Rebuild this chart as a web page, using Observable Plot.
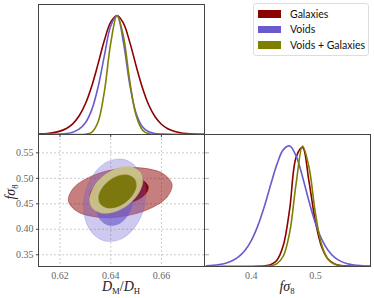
<!DOCTYPE html>
<html><head><meta charset="utf-8">
<script src="https://cdn.jsdelivr.net/npm/d3@7"></script>
<script src="https://cdn.jsdelivr.net/npm/@observablehq/plot@0.6"></script>
<style>
body{margin:0;background:#fff;}
#wrap{position:relative;width:374px;height:298px;overflow:hidden;font-family:"Liberation Serif",serif;}
.panel{position:absolute;}
.panel svg{overflow:visible;background:transparent;}
.lab{position:absolute;font-family:"Liberation Serif",serif;font-size:14px;line-height:1;color:#222;white-space:nowrap;transform:translate(-50%,-50%);}
.lab sub{font-size:0.62em;vertical-align:-0.35em;font-style:normal;}
#ylab{transform:translate(-50%,-50%) rotate(-90deg);}
#legend{position:absolute;left:253px;top:3px;width:114px;height:49px;border:1px solid #ddd;border-radius:3px;background:#fff;padding-top:2px;box-sizing:content-box;font-family:Lato,"DejaVu Sans",sans-serif;font-size:10.5px;color:#111;}
#legend .row{height:15.5px;display:flex;align-items:center;}
#legend .sw{display:inline-block;width:23px;height:7.5px;margin-left:4px;margin-right:9px;}
</style></head><body>
<div id="wrap">
  <div id="br" class="panel" style="left:200px;top:130px"></div>
  <div id="bl" class="panel" style="left:0;top:130px"></div>
  <div id="tl" class="panel" style="left:0;top:0"></div>
  <div id="legend"></div>
  <div class="lab" style="left:121px;top:288px"><i>D</i><sub>M</sub>/<i>D</i><sub>H</sub></div>
  <div class="lab" style="left:287px;top:288px"><i>f</i><i>σ</i><sub>8</sub></div>
  <div class="lab" id="ylab" style="left:12px;top:192px"><i>f</i><i>σ</i><sub>8</sub></div>
</div>
<script>
// ---------- data ----------
const seriesNames = ["Galaxies", "Voids", "Voids + Galaxies"];
const lineColors = ["#8b0000", "#6a5acd", "#808000"];

const dmdhDomain = [0.6115, 0.677];
const fs8Domain = [0.327, 0.586];
const densityDomain = [0, 1.092];

const dmdhTicks = [0.62, 0.64, 0.66];
const fs8TicksY = [0.35, 0.40, 0.45, 0.50, 0.55];
const fs8TicksX = [0.4, 0.5];

const dmdhGrid = [0.6100,0.6125,0.6150,0.6175,0.6200,0.6225,0.6250,0.6275,0.6300,0.6325,0.6350,0.6375,0.6400,0.6425,0.6450,0.6475,0.6500,0.6525,0.6550,0.6575,0.6600,0.6625,0.6650,0.6675,0.6700,0.6725,0.6750,0.6775];
const dmdhGalaxies = [0.0028,0.0050,0.0088,0.0158,0.0284,0.0508,0.0898,0.155,0.258,0.406,0.593,0.791,0.944,1.000,0.935,0.776,0.578,0.393,0.248,0.149,0.0859,0.0485,0.0270,0.0151,0.0084,0.0047,0.0027,0.0016];
const dmdhVoids = [0.0002,0.0004,0.0009,0.0018,0.0040,0.0088,0.0197,0.0446,0.0986,0.207,0.398,0.662,0.911,0.997,0.775,0.422,0.179,0.0657,0.0228,0.0079,0.0028,0.0010,0.0004,0.0002,0,0,0,0];
const dmdhCombined = [0,0,0,0,0,0,0,0.0001,0.0020,0.0187,0.105,0.362,0.768,1.000,0.826,0.450,0.162,0.0386,0.0061,0.0006,0,0,0,0,0,0,0,0];

const fs8Grid = [0.33,0.34,0.35,0.36,0.37,0.38,0.39,0.40,0.41,0.42,0.43,0.44,0.45,0.46,0.47,0.48,0.49,0.50,0.51,0.52,0.53,0.54,0.55,0.56,0.57,0.58,0.59];
const fs8Galaxies = [0,0,0,0,0,0.0001,0.0001,0.0004,0.0013,0.0042,0.0147,0.0524,0.175,0.479,0.905,0.985,0.705,0.373,0.159,0.060,0.0216,0.0078,0.0029,0.0011,0.0004,0.0001,0];
const fs8Voids = [0.0056,0.0094,0.0161,0.0276,0.0472,0.0799,0.133,0.215,0.334,0.490,0.672,0.845,0.967,0.997,0.913,0.741,0.540,0.360,0.224,0.132,0.0755,0.0422,0.0234,0.0130,0.0072,0.0041,0.0023];
const fs8Combined = [0,0,0,0,0,0,0,0.0002,0.0005,0.0018,0.0063,0.0235,0.0869,0.285,0.688,0.997,0.823,0.442,0.175,0.0587,0.0185,0.0059,0.0019,0.0006,0.0002,0,0];

// 2D contour outlines, [DM/DH, f sigma8]
const galaxies95 = [[0.6642,0.4882],[0.6622,0.4629],[0.6553,0.4401],[0.6452,0.4257],[0.6348,0.4238],[0.6268,0.4348],[0.6233,0.4557],[0.6253,0.4810],[0.6322,0.5038],[0.6422,0.5181],[0.6527,0.5201],[0.6607,0.5091]];
const galaxies68 = [[0.6548,0.4835],[0.6537,0.4692],[0.6498,0.4562],[0.6442,0.4481],[0.6382,0.4470],[0.6337,0.4533],[0.6318,0.4652],[0.6329,0.4795],[0.6368,0.4925],[0.6424,0.5006],[0.6483,0.5017],[0.6528,0.4954]];
const voids95 = [[0.6453,0.5370],[0.6506,0.5195],[0.6535,0.4853],[0.6532,0.4434],[0.6497,0.4052],[0.6441,0.3808],[0.6377,0.3768],[0.6324,0.3943],[0.6295,0.4286],[0.6298,0.4705],[0.6333,0.5087],[0.6389,0.5331]];
const voids68 = [[0.6438,0.5057],[0.6471,0.4951],[0.6488,0.4742],[0.6486,0.4487],[0.6465,0.4254],[0.6431,0.4105],[0.6392,0.4081],[0.6359,0.4188],[0.6342,0.4397],[0.6344,0.4652],[0.6365,0.4885],[0.6399,0.5033]];
const combined95 = [[0.6516,0.5123],[0.6526,0.4928],[0.6508,0.4691],[0.6467,0.4476],[0.6413,0.4340],[0.6362,0.4320],[0.6327,0.4421],[0.6317,0.4616],[0.6336,0.4853],[0.6377,0.5068],[0.6430,0.5204],[0.6481,0.5224]];
const combined68 = [[0.6493,0.4988],[0.6500,0.4850],[0.6487,0.4683],[0.6458,0.4532],[0.6421,0.4438],[0.6385,0.4425],[0.6360,0.4497],[0.6353,0.4635],[0.6366,0.4802],[0.6395,0.4953],[0.6432,0.5048],[0.6468,0.5061]];

// ---------- build ----------
const styleBase = {background: "transparent", overflow: "visible", fontFamily: "'Liberation Serif', serif", fontSize: "10px", color: "#666"};
const toRows = (grid, vals) => grid.map((x, i) => ({x, y: vals[i]}));
const frameColor = "#444";

const tlLines = [dmdhGalaxies, dmdhVoids, dmdhCombined].map((v, i) =>
  Plot.line(toRows(dmdhGrid, v), {x: "x", y: "y", stroke: lineColors[i], strokeWidth: 1.6, curve: "catmull-rom", clip: true}));
const brLines = [fs8Galaxies, fs8Voids, fs8Combined].map((v, i) =>
  Plot.line(toRows(fs8Grid, v), {x: "x", y: "y", stroke: lineColors[i], strokeWidth: 1.6, curve: "catmull-rom", clip: true}));

const tl = Plot.plot({
  width: 210, height: 140, marginLeft: 38, marginRight: 6, marginTop: 4, marginBottom: 6,
  x: {domain: dmdhDomain, label: null}, y: {domain: densityDomain, label: null, axis: null},
  style: styleBase,
  marks: [
    ...tlLines,
    Plot.axisX(dmdhTicks, {tickSize: 3, tickFormat: () => "", stroke: frameColor}),
    Plot.frame({stroke: frameColor})
  ]
});
document.getElementById("tl").append(tl);

const contour = (pts, color, op, sop) => Plot.line(pts, {x: d => d[0], y: d => d[1], curve: "catmull-rom-closed", fill: color, fillOpacity: op, stroke: color, strokeOpacity: sop, strokeWidth: 0.8, clip: true});

const bl = Plot.plot({
  width: 210, height: 166, marginLeft: 38, marginRight: 6, marginTop: 4, marginBottom: 30,
  x: {domain: dmdhDomain, label: null}, y: {domain: fs8Domain, label: null},
  style: styleBase,
  marks: [
    Plot.gridX(dmdhTicks, {stroke: "#cccccc", strokeOpacity: 1, strokeDasharray: "2,2"}),
    Plot.gridY(fs8TicksY, {stroke: "#cccccc", strokeOpacity: 1, strokeDasharray: "2,2"}),
    contour(galaxies95, "#8b0000", 0.5, 0.5),
    contour(galaxies68, "#8b0000", 0.95, 1),
    contour(voids95, "#6a5acd", 0.33, 0.3),
    contour(voids68, "#6a5acd", 0.65, 0.4),
    contour(combined95, "#cac487", 0.95, 0.5),
    contour(combined68, "#7d780e", 1, 1),
    Plot.axisX(dmdhTicks, {tickSize: 0, tickPadding: 5, tickFormat: d3.format(".2f"), fill: "#666"}),
    Plot.axisY(fs8TicksY, {tickSize: 2, tickPadding: 3, tickFormat: d3.format(".2f"), fill: "#666", stroke: frameColor}),
    Plot.axisY(fs8TicksY, {anchor: "right", tickSize: 4, tickFormat: () => "", stroke: "#aaa"}),
    Plot.frame({stroke: frameColor})
  ]
});
document.getElementById("bl").append(bl);

const br = Plot.plot({
  width: 174, height: 166, marginLeft: 4, marginRight: 4, marginTop: 4, marginBottom: 30,
  x: {domain: fs8Domain, label: null}, y: {domain: densityDomain, label: null, axis: null},
  style: styleBase,
  marks: [
    ...brLines,
    Plot.axisX(fs8TicksX, {tickSize: 0, tickPadding: 5, tickFormat: d3.format(".1f"), fill: "#666"}),
    Plot.frame({stroke: frameColor})
  ]
});
document.getElementById("br").append(br);

const legend = document.getElementById("legend");
seriesNames.forEach((n, i) => {
  const row = document.createElement("div");
  row.className = "row";
  const sw = document.createElement("span");
  sw.className = "sw";
  sw.style.background = lineColors[i];
  const t = document.createElement("span");
  t.textContent = n;
  row.append(sw, t);
  legend.append(row);
});
</script>
</body></html>
